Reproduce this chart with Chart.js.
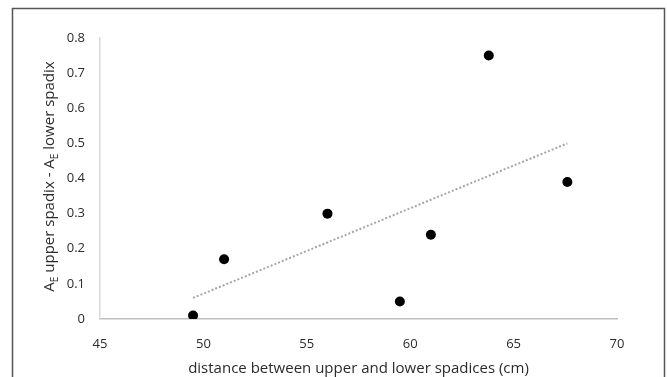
<!DOCTYPE html>
<html>
<head>
<meta charset="utf-8">
<script src="https://cdn.jsdelivr.net/npm/chart.js@4/dist/chart.umd.min.js"></script>
<style>
  html, body { margin: 0; padding: 0; background: #fff; }
  #wrap { width: 667px; height: 377px; position: relative; }
</style>
</head>
<body>
<div id="wrap"><canvas id="chart" width="667" height="377"></canvas></div>
<script>
// ── Data ───────────────────────────────────────────────────────
const distance = [49.5, 51.0, 56.0, 59.5, 61.0, 63.8, 67.6];   // cm
const aeDiff   = [0.01, 0.17, 0.30, 0.05, 0.24, 0.75, 0.39];
const trendX   = [49.5, 67.6];
const trendY   = [0.06, 0.50];
const xTicks   = [45, 50, 55, 60, 65, 70];
const yTicks   = [0, 0.1, 0.2, 0.3, 0.4, 0.5, 0.6, 0.7, 0.8];

const xTitle = 'distance between upper and lower spadices (cm)';
// y title pieces: [text, subscript?]
const yTitle = [['A', false], ['E', true], [' upper spadix - A', false], ['E', true], [' lower spadix', false]];

const FONT = '"Open Sans", sans-serif';
const TEXT = '#2b2b2b';

// ── Frame + axis titles ────────────────────────────────────────
const decorPlugin = {
  id: 'decor',
  beforeDraw(chart) {
    const ctx = chart.ctx;
    ctx.save();
    ctx.strokeStyle = '#555';
    ctx.lineWidth = 1.5;
    ctx.strokeRect(12.5, 8.5, 652, 400);
    ctx.restore();
  },
  afterDraw(chart) {
    const ctx = chart.ctx;
    const area = chart.chartArea;
    ctx.save();
    ctx.fillStyle = TEXT;
    ctx.textBaseline = 'middle';

    // x title
    ctx.font = `15px ${FONT}`;
    ctx.textAlign = 'center';
    ctx.fillText(xTitle, (area.left + area.right) / 2, 369);

    // y title with subscripts, rotated
    const big = `15px ${FONT}`, small = `10px ${FONT}`;
    let total = 0;
    yTitle.forEach(([t, sub]) => { ctx.font = sub ? small : big; total += ctx.measureText(t).width; });
    ctx.translate(50, (area.top + area.bottom) / 2 - 2);
    ctx.rotate(-Math.PI / 2);
    ctx.textAlign = 'left';
    let x = -total / 2;
    yTitle.forEach(([t, sub]) => {
      ctx.font = sub ? small : big;
      ctx.fillText(t, x, sub ? 5 : 0);
      x += ctx.measureText(t).width;
    });
    ctx.restore();
  }
};

new Chart(document.getElementById('chart'), {
  type: 'scatter',
  data: {
    datasets: [
      {
        label: 'trend',
        data: trendX.map((x, i) => ({ x, y: trendY[i] })),
        showLine: true,
        borderColor: '#a6a6a6',
        borderWidth: 2,
        borderDash: [2, 2],
        pointRadius: 0,
        fill: false,
      },
      {
        label: 'A_E difference',
        data: distance.map((x, i) => ({ x, y: aeDiff[i] })),
        backgroundColor: '#000',
        borderColor: '#000',
        pointRadius: 5,
        pointBorderWidth: 0,
      },
    ],
  },
  options: {
    responsive: false,
    animation: false,
    layout: { padding: { left: 0, top: 38, right: 50, bottom: 0 } },
    plugins: { legend: { display: false }, tooltip: { enabled: false } },
    scales: {
      x: {
        type: 'linear',
        min: 45, max: 70,
        afterBuildTicks: s => { s.ticks = xTicks.map(v => ({ value: v })); },
        afterFit: s => { s.height = 58; },
        grid: { display: false, drawTicks: false },
        border: { color: '#bfbfbf', width: 1.5 },
        ticks: { padding: 17, color: TEXT, font: { family: FONT, size: 13 } },
      },
      y: {
        type: 'linear',
        min: 0, max: 0.8,
        afterBuildTicks: s => { s.ticks = yTicks.map(v => ({ value: v })); },
        afterFit: s => { s.width = 100; },
        grid: { display: false, drawTicks: false },
        border: { color: '#d9d9d9', width: 1.5 },
        ticks: { padding: 15, color: TEXT, font: { family: FONT, size: 13 }, callback: v => String(+v.toFixed(1)) },
      },
    },
  },
  plugins: [decorPlugin],
});
</script>
</body>
</html>
